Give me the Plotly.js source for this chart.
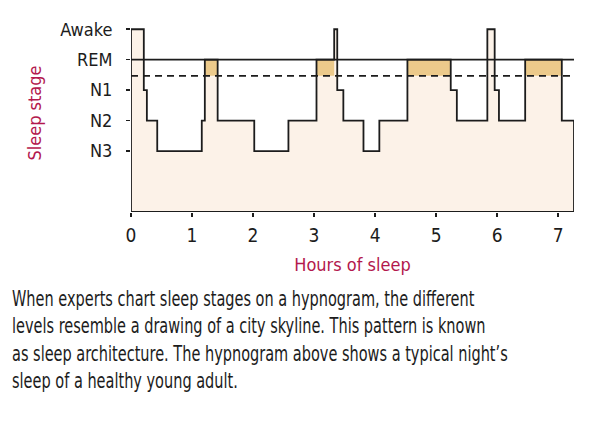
<!DOCTYPE html>
<html>
<head>
<meta charset="utf-8">
<script src="https://cdn.plot.ly/plotly-3.0.1.min.js"></script>
<style>
  html, body { margin: 0; padding: 0; background: #ffffff; }
  #chart { width: 600px; height: 429px; }
</style>
</head>
<body>
<div id="chart"></div>
<script>
// ---- data ----
const stageOrder = ['N3', 'N2', 'N1', 'REM', 'Awake'];   // y tick labels, bottom to top
const segmentStart = [0, 0.21, 0.26, 0.43, 1.16, 1.21, 1.42, 2.02, 2.58, 3.04, 3.33, 3.38, 3.48, 3.81, 4.07, 4.53, 5.24, 5.34, 5.84, 5.96, 6.03, 6.46, 7.06];
const segmentStage = ['Awake', 'N1', 'N2', 'N3', 'N2', 'REM', 'N2', 'N3', 'N2', 'REM', 'Awake', 'N1', 'N2', 'N3', 'N2', 'REM', 'N1', 'N2', 'Awake', 'N1', 'N2', 'REM', 'N2'];
const nightEnd = 7.26;
const hourTicks = [0, 1, 2, 3, 4, 5, 6, 7];
const xTitle = 'Hours of sleep';
const yTitle = 'Sleep stage';
const captionLines = [
  'When experts chart sleep stages on a hypnogram, the different',
  'levels resemble a drawing of a city skyline. This pattern is known',
  'as sleep architecture. The hypnogram above shows a typical night\u2019s',
  'sleep of a healthy young adult.'
];

// ---- layout constants ----
const FLOOR = 0;
const levelOffset = 2;                 // N3 sits two steps above the floor
const lvl = s => stageOrder.indexOf(s) + levelOffset;
const remLevel = lvl('REM');
const remLower = 4.47;                 // dashed boundary under REM
const FONT = '"Liberation Sans Narrow", "DejaVu Sans Condensed", "Liberation Sans", sans-serif';
const INK = '#1c1c1c';
const RED = '#b3184d';
const CAPTION_MAX_WIDTH = 496;         // width of the widest caption line in the reference

// build the step path
const stepX = [], stepY = [];
for (let i = 0; i < segmentStart.length; i++) {
  const s = segmentStart[i];
  const e = i + 1 < segmentStart.length ? segmentStart[i + 1] : nightEnd;
  const y = lvl(segmentStage[i]);
  stepX.push(s, e); stepY.push(y, y);
}
const polyX = [0].concat(stepX, [nightEnd, 0]);
const polyY = [FLOOR].concat(stepY, [FLOOR, FLOOR]);

// REM blocks
const remX = [], remY = [];
for (let i = 0; i < segmentStart.length; i++) {
  if (segmentStage[i] !== 'REM') continue;
  const s = segmentStart[i];
  const e = i + 1 < segmentStart.length ? segmentStart[i + 1] : nightEnd;
  remX.push(s, s, e, e, s, null);
  remY.push(remLower, remLevel, remLevel, remLower, remLower, null);
}

const traces = [
  { type: 'scatter', mode: 'lines', x: polyX, y: polyY, fill: 'toself',
    fillcolor: '#fcf2e8', line: { width: 0 }, hoverinfo: 'skip', showlegend: false },
  { type: 'scatter', mode: 'lines', x: remX, y: remY, fill: 'toself',
    fillcolor: '#ecca8b', line: { width: 0 }, hoverinfo: 'skip', showlegend: false },
  { type: 'scatter', mode: 'lines', x: [0, nightEnd], y: [remLevel, remLevel],
    line: { color: INK, width: 1.8 }, hoverinfo: 'skip', showlegend: false },
  { type: 'scatter', mode: 'lines', x: [0, nightEnd - 0.03], y: [remLower, remLower],
    line: { color: INK, width: 1.6, dash: '7px,5px' }, hoverinfo: 'skip', showlegend: false },
  { type: 'scatter', mode: 'lines', x: polyX, y: polyY,
    line: { color: INK, width: 1.8 }, hoverinfo: 'skip', showlegend: false }
];

const layout = {
  width: 600, height: 429,
  margin: { l: 131, r: 26, t: 14, b: 217 },
  paper_bgcolor: '#ffffff', plot_bgcolor: '#ffffff',
  showlegend: false,
  font: { family: FONT, color: INK, size: 18 },
  xaxis: {
    range: [0, nightEnd], tickvals: hourTicks, ticktext: hourTicks.map(String),
    ticks: 'outside', ticklen: 4, tickwidth: 1.5, tickcolor: INK,
    ticklabelstandoff: 2,
    showgrid: false, zeroline: false, showline: false, fixedrange: true,
    tickfont: { family: FONT, size: 19, color: INK },
    title: { text: xTitle, font: { family: FONT, size: 18, color: RED }, standoff: 13 }
  },
  yaxis: {
    range: [FLOOR, 6.5], tickvals: stageOrder.map(lvl), ticktext: stageOrder,
    ticks: 'outside', ticklen: 4, tickwidth: 1.5, tickcolor: INK,
    ticklabelstandoff: 10,
    showgrid: false, zeroline: false, showline: false, fixedrange: true,
    tickfont: { family: FONT, size: 18, color: INK },
    title: { text: yTitle, font: { family: FONT, size: 18, color: RED }, standoff: 13 }
  },
  annotations: [
    { x: -0.13, y: 4.76, xref: 'x', yref: 'y', ax: -9, ay: 0, showarrow: true,
      arrowhead: 2, arrowsize: 0.6, arrowwidth: 1.2, arrowcolor: INK, text: '' },
    { x: -0.2731, y: -0.37, xref: 'paper', yref: 'paper', xanchor: 'left', yanchor: 'top',
      align: 'left', showarrow: false, text: captionLines.join('<br>'),
      font: { family: FONT, size: 21, color: INK } }
  ]
};

Plotly.newPlot('chart', traces, layout, { displayModeBar: false, staticPlot: true }).then(gd => {
  // the reference caption is set in a condensed face; narrow the fallback face to match
  const texts = gd.querySelectorAll('text.annotation-text');
  texts.forEach(t => {
    if (!t.textContent.startsWith('When')) return;
    const w = t.getBBox().width;
    if (w > CAPTION_MAX_WIDTH) {
      t.style.transformBox = 'fill-box';
      t.style.transformOrigin = '0 0';
      t.style.transform = 'scaleX(' + (CAPTION_MAX_WIDTH / w) + ')';
    }
  });
});
</script>
</body>
</html>
